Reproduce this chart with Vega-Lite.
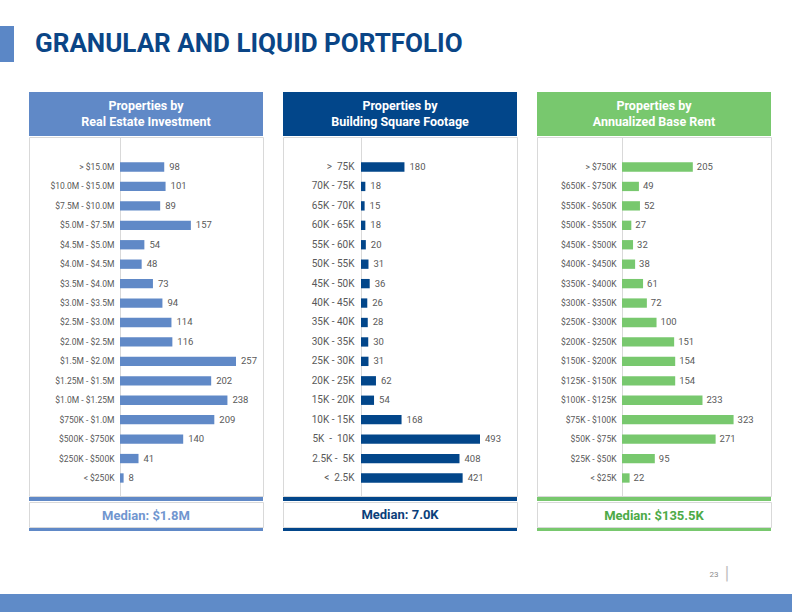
{
  "$schema": "https://vega.github.io/schema/vega-lite/v6.json",
  "background": "white",
  "padding": {"left": 0, "right": 0, "top": 26, "bottom": 0},
  "spacing": 0,
  "config": {"view": {"stroke": null}, "font": "Roboto"},
  "datasets": {
    "re": [
      {"range": "> $15.0M", "count": 98},
      {"range": "$10.0M - $15.0M", "count": 101},
      {"range": "$7.5M - $10.0M", "count": 89},
      {"range": "$5.0M - $7.5M", "count": 157},
      {"range": "$4.5M - $5.0M", "count": 54},
      {"range": "$4.0M - $4.5M", "count": 48},
      {"range": "$3.5M - $4.0M", "count": 73},
      {"range": "$3.0M - $3.5M", "count": 94},
      {"range": "$2.5M - $3.0M", "count": 114},
      {"range": "$2.0M - $2.5M", "count": 116},
      {"range": "$1.5M - $2.0M", "count": 257},
      {"range": "$1.25M - $1.5M", "count": 202},
      {"range": "$1.0M - $1.25M", "count": 238},
      {"range": "$750K - $1.0M", "count": 209},
      {"range": "$500K - $750K", "count": 140},
      {"range": "$250K - $500K", "count": 41},
      {"range": "< $250K", "count": 8}
    ],
    "sf": [
      {"range": ">\u00a0\u00a075K", "count": 180},
      {"range": "70K - 75K", "count": 18},
      {"range": "65K - 70K", "count": 15},
      {"range": "60K - 65K", "count": 18},
      {"range": "55K - 60K", "count": 20},
      {"range": "50K - 55K", "count": 31},
      {"range": "45K - 50K", "count": 36},
      {"range": "40K - 45K", "count": 26},
      {"range": "35K - 40K", "count": 28},
      {"range": "30K - 35K", "count": 30},
      {"range": "25K - 30K", "count": 31},
      {"range": "20K - 25K", "count": 62},
      {"range": "15K - 20K", "count": 54},
      {"range": "10K - 15K", "count": 168},
      {"range": "5K\u00a0\u00a0-\u00a0\u00a010K", "count": 493},
      {"range": "2.5K -\u00a0\u00a05K", "count": 408},
      {"range": "<\u00a0\u00a02.5K", "count": 421}
    ],
    "abr": [
      {"range": "> $750K", "count": 205},
      {"range": "$650K - $750K", "count": 49},
      {"range": "$550K - $650K", "count": 52},
      {"range": "$500K - $550K", "count": 27},
      {"range": "$450K - $500K", "count": 32},
      {"range": "$400K - $450K", "count": 38},
      {"range": "$350K - $400K", "count": 61},
      {"range": "$300K - $350K", "count": 72},
      {"range": "$250K - $300K", "count": 100},
      {"range": "$200K - $250K", "count": 151},
      {"range": "$150K - $200K", "count": 154},
      {"range": "$125K - $150K", "count": 154},
      {"range": "$100K - $125K", "count": 233},
      {"range": "$75K - $100K", "count": 323},
      {"range": "$50K - $75K", "count": 271},
      {"range": "$25K - $50K", "count": 95},
      {"range": "< $25K", "count": 22}
    ]
  },
  "vconcat": [
    {
      "spacing": 21,
      "hconcat": [
        {"width": 14, "height": 36, "view": {"fill": "#5b87c6", "stroke": null},
         "data": {"values": [{}]}, "mark": {"type": "point", "size": 0, "opacity": 0, "strokeWidth": 0}, "encoding": {}},
        {"width": 740, "height": 66, "view": {"stroke": null},
         "data": {"values": [{"t": "GRANULAR AND LIQUID PORTFOLIO"}]},
         "mark": {"type": "text", "align": "left", "baseline": "middle", "fontSize": 26, "fontWeight": "bold", "color": "#0a4586", "dy": -15},
         "encoding": {"text": {"field": "t"}, "x": {"value": 0}}}
      ]
    },
    {
      "spacing": 18,
      "hconcat": [
        {"width": 10, "height": 10, "view": {"stroke": null},
         "data": {"values": [{}]}, "mark": {"type": "point", "size": 0, "opacity": 0, "strokeWidth": 0}, "encoding": {}},
        {
          "spacing": 0,
          "vconcat": [
            {"width": 234, "height": 44, "view": {"fill": "#6089c7", "stroke": null},
             "data": {"values": [{"t": ["Properties by", "Real Estate Investment"]}]},
             "mark": {"type": "text", "color": "white", "fontWeight": "bold", "fontSize": 12.5, "lineHeight": 16, "baseline": "middle", "dy": -8},
             "encoding": {"text": {"field": "t"}}},
            {"width": 234, "height": 359, "view": {"fill": "white", "stroke": "#d9d9d9"},
             "data": {"name": "re"},
             "encoding": {
               "y": {"field": "range", "type": "nominal", "sort": null,
                     "scale": {"paddingInner": 0.52, "paddingOuter": 0.995, "align": 0.655, "round": false},
                     "axis": {"title": null, "offset": -91, "ticks": false, "domainColor": "#d9d9d9", "labelColor": "#595959", "labelFontSize": 8.5, "labelPadding": 6}},
               "x": {"field": "count", "type": "quantitative", "scale": {"domain": [-201.6, 316.8], "nice": false}, "axis": null}
             },
             "layer": [
               {"mark": {"type": "bar", "color": "#6089c7"}},
               {"mark": {"type": "text", "align": "left", "dx": 5, "fontSize": 9.5, "color": "#595959"}, "encoding": {"text": {"field": "count", "type": "quantitative"}}}
             ]},
            {"width": 234, "height": 4, "view": {"fill": "#6089c7", "stroke": null},
             "data": {"values": [{}]}, "mark": {"type": "point", "size": 0, "opacity": 0, "strokeWidth": 0}, "encoding": {}},
            {"width": 234, "height": 25, "view": {"fill": "white", "stroke": "#d9d9d9"},
             "data": {"values": [{"t": "Median: $1.8M"}]},
             "mark": {"type": "text", "color": "#7196cf", "fontWeight": "bold", "fontSize": 13, "baseline": "middle", "dy": 1},
             "encoding": {"text": {"field": "t"}}},
            {"width": 234, "height": 3, "view": {"fill": "#6089c7", "stroke": null},
             "data": {"values": [{}]}, "mark": {"type": "point", "size": 0, "opacity": 0, "strokeWidth": 0}, "encoding": {}}
          ]
        },
        {
          "spacing": 0,
          "vconcat": [
            {"width": 234, "height": 44, "view": {"fill": "#02468a", "stroke": null},
             "data": {"values": [{"t": ["Properties by", "Building Square Footage"]}]},
             "mark": {"type": "text", "color": "white", "fontWeight": "bold", "fontSize": 12.5, "lineHeight": 16, "baseline": "middle", "dy": -8},
             "encoding": {"text": {"field": "t"}}},
            {"width": 234, "height": 359, "view": {"fill": "white", "stroke": "#d9d9d9"},
             "data": {"name": "sf"},
             "encoding": {
               "y": {"field": "range", "type": "nominal", "sort": null,
                     "scale": {"paddingInner": 0.52, "paddingOuter": 0.995, "align": 0.655, "round": false},
                     "axis": {"title": null, "offset": -78, "ticks": false, "domainColor": "#d9d9d9", "labelColor": "#595959", "labelFontSize": 10, "labelPadding": 7}},
               "x": {"field": "count", "type": "quantitative", "scale": {"domain": [-323.1, 646.2], "nice": false}, "axis": null}
             },
             "layer": [
               {"mark": {"type": "bar", "color": "#02468a"}},
               {"mark": {"type": "text", "align": "left", "dx": 5, "fontSize": 9.5, "color": "#595959"}, "encoding": {"text": {"field": "count", "type": "quantitative"}}}
             ]},
            {"width": 234, "height": 4, "view": {"fill": "#02468a", "stroke": null},
             "data": {"values": [{}]}, "mark": {"type": "point", "size": 0, "opacity": 0, "strokeWidth": 0}, "encoding": {}},
            {"width": 234, "height": 25, "view": {"fill": "white", "stroke": "#d9d9d9"},
             "data": {"values": [{"t": "Median: 7.0K"}]},
             "mark": {"type": "text", "color": "#0b3f7a", "fontWeight": "bold", "fontSize": 13, "baseline": "middle", "dy": 0},
             "encoding": {"text": {"field": "t"}}},
            {"width": 234, "height": 3, "view": {"fill": "#02468a", "stroke": null},
             "data": {"values": [{}]}, "mark": {"type": "point", "size": 0, "opacity": 0, "strokeWidth": 0}, "encoding": {}}
          ]
        },
        {
          "spacing": 0,
          "vconcat": [
            {"width": 234, "height": 44, "view": {"fill": "#78c86e", "stroke": null},
             "data": {"values": [{"t": ["Properties by", "Annualized Base Rent"]}]},
             "mark": {"type": "text", "color": "white", "fontWeight": "bold", "fontSize": 12.5, "lineHeight": 16, "baseline": "middle", "dy": -8},
             "encoding": {"text": {"field": "t"}}},
            {"width": 234, "height": 359, "view": {"fill": "white", "stroke": "#d9d9d9"},
             "data": {"name": "abr"},
             "encoding": {
               "y": {"field": "range", "type": "nominal", "sort": null,
                     "scale": {"paddingInner": 0.52, "paddingOuter": 0.995, "align": 0.655, "round": false},
                     "axis": {"title": null, "offset": -85, "ticks": false, "domainColor": "#d9d9d9", "labelColor": "#595959", "labelFontSize": 8.5, "labelPadding": 6}},
               "x": {"field": "count", "type": "quantitative", "scale": {"domain": [-246, 431.3], "nice": false}, "axis": null}
             },
             "layer": [
               {"mark": {"type": "bar", "color": "#78c86e"}},
               {"mark": {"type": "text", "align": "left", "dx": 4, "fontSize": 9.5, "color": "#595959"}, "encoding": {"text": {"field": "count", "type": "quantitative"}}}
             ]},
            {"width": 234, "height": 4, "view": {"fill": "#78c86e", "stroke": null},
             "data": {"values": [{}]}, "mark": {"type": "point", "size": 0, "opacity": 0, "strokeWidth": 0}, "encoding": {}},
            {"width": 234, "height": 25, "view": {"fill": "white", "stroke": "#d9d9d9"},
             "data": {"values": [{"t": "Median: $135.5K"}]},
             "mark": {"type": "text", "color": "#4daa47", "fontWeight": "bold", "fontSize": 13, "baseline": "middle", "dy": 1},
             "encoding": {"text": {"field": "t"}}},
            {"width": 234, "height": 3, "view": {"fill": "#78c86e", "stroke": null},
             "data": {"values": [{}]}, "mark": {"type": "point", "size": 0, "opacity": 0, "strokeWidth": 0}, "encoding": {}}
          ]
        }
      ]
    },
    {"width": 792, "height": 63, "view": {"stroke": null},
     "data": {"values": [{"page": "23", "sep": "|"}]},
     "layer": [
       {"mark": {"type": "text", "fontSize": 8, "color": "#8c8c8c", "baseline": "middle", "dx": 318, "dy": 12.5}, "encoding": {"text": {"field": "page"}}},
       {"mark": {"type": "text", "fontSize": 18, "color": "#bfbfbf", "baseline": "middle", "dx": 331, "dy": 11}, "encoding": {"text": {"field": "sep"}}}
     ]},
    {"width": 792, "height": 22, "view": {"fill": "#5f8bc8", "stroke": null},
     "data": {"values": [{}]}, "mark": {"type": "point", "size": 0, "opacity": 0, "strokeWidth": 0}, "encoding": {}}
  ]
}
